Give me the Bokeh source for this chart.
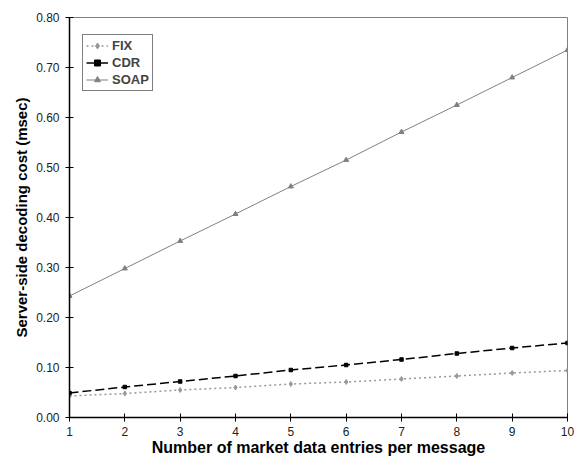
from bokeh.plotting import figure
from bokeh.models import Range1d, FixedTicker, Legend, LegendItem, NumeralTickFormatter
from bokeh.embed import file_html
from bokeh.resources import INLINE

entries = [1, 2, 3, 4, 5, 6, 7, 8, 9, 10]
fix = [0.043, 0.048, 0.055, 0.060, 0.067, 0.071, 0.077, 0.083, 0.089, 0.094]
cdr = [0.049, 0.061, 0.072, 0.083, 0.095, 0.105, 0.116, 0.128, 0.139, 0.149]
soap = [0.243, 0.298, 0.353, 0.407, 0.462, 0.515, 0.571, 0.625, 0.680, 0.735]
y_ticks = [0.0, 0.1, 0.2, 0.3, 0.4, 0.5, 0.6, 0.7, 0.8]

FONT = "Liberation Sans"

p = figure(width=576, height=458, output_backend="svg", toolbar_location=None,
           x_range=Range1d(1, 10), y_range=Range1d(0, 0.8),
           min_border_left=69, min_border_right=9, min_border_top=17, min_border_bottom=41)
p.xgrid.visible = False
p.ygrid.visible = False
p.outline_line_color = "#808080"
p.outline_line_width = 1

for ax in (p.xaxis[0], p.yaxis[0]):
    ax.axis_line_color = "black"
    ax.axis_line_width = 1.5
    ax.major_tick_line_color = "black"
    ax.major_tick_line_width = 1
    ax.major_tick_in = 4
    ax.major_tick_out = 4
    ax.minor_tick_line_color = None
    ax.major_label_text_font = FONT
    ax.major_label_text_font_size = "12px"
    ax.major_label_text_color = "#222222"
    ax.axis_label_text_font = FONT
    ax.axis_label_text_font_style = "bold"
    ax.axis_label_text_color = "black"

p.xaxis.ticker = FixedTicker(ticks=entries)
p.yaxis.ticker = FixedTicker(ticks=y_ticks)
p.yaxis.formatter = NumeralTickFormatter(format="0.00")
p.xaxis.axis_label = "Number of market data entries per message"
p.yaxis.axis_label = "Server-side decoding cost (msec)"
p.xaxis.axis_label_text_font_size = "16px"
p.yaxis.axis_label_text_font_size = "15px"
p.xaxis.major_label_standoff = 5
p.xaxis.axis_label_standoff = 0
p.yaxis.major_label_standoff = 6
p.yaxis.axis_label_standoff = 3

l_fix = p.line(entries, fix, line_color="#999999", line_width=1.5, line_dash="2 3")
m_fix = p.scatter(entries, fix, marker="diamond", size=5, color="#999999")
l_cdr = p.line(entries, cdr, line_color="black", line_width=1.5, line_dash="9 4")
m_cdr = p.scatter(entries, cdr, marker="square", size=3.5, color="black")
l_soap = p.line(entries, soap, line_color="#808080", line_width=1)
m_soap = p.scatter(entries, soap, marker="triangle", size=5, color="#808080")

legend = Legend(items=[
    LegendItem(label="FIX", renderers=[l_fix, m_fix]),
    LegendItem(label="CDR", renderers=[l_cdr, m_cdr]),
    LegendItem(label="SOAP", renderers=[l_soap, m_soap]),
], location=(13, 326))
legend.label_text_font = FONT
legend.label_text_font_size = "13px"
legend.label_text_font_style = "bold"
legend.label_height = 15
legend.glyph_height = 15
legend.glyph_width = 22
legend.spacing = 2
legend.padding = 3
legend.margin = 0
legend.label_standoff = 4
legend.border_line_color = "black"
legend.border_line_width = 1
legend.background_fill_alpha = 1
p.add_layout(legend)

open("out.html", "w").write(file_html(p, INLINE))
